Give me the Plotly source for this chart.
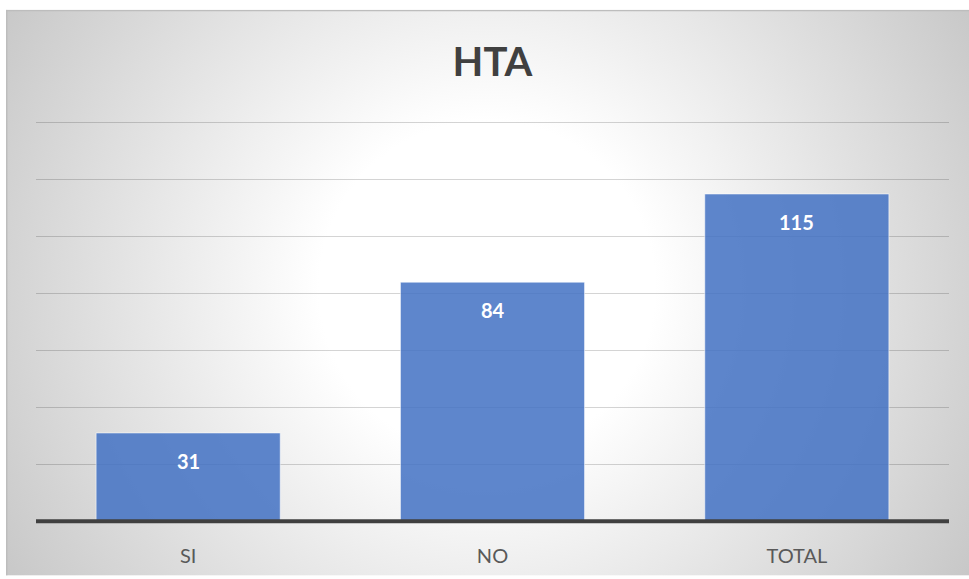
import base64
import plotly.graph_objects as go

# Data
categories = ["SI", "NO", "TOTAL"]
values = [31, 84, 115]
y_ticks = [0, 20, 40, 60, 80, 100, 120, 140]

W, H = 969, 579
M_L, M_R, M_T, M_B = 36, 20, 120, 52
plot_w = W - M_L - M_R
plot_h = H - M_T - M_B

# Radial-gradient chart background with a thin border on the top and left
bg_x0, bg_y0 = 6, 9
bg_w, bg_h = W - bg_x0, H - bg_y0
svg = f"""<svg xmlns='http://www.w3.org/2000/svg' width='{bg_w}' height='{bg_h}' viewBox='0 0 {bg_w} {bg_h}' preserveAspectRatio='none'>
<defs><radialGradient id='g' gradientUnits='userSpaceOnUse' cx='{481}' cy='{280}' r='{560}'>
<stop offset='0' stop-color='#ffffff'/><stop offset='0.3' stop-color='#ffffff'/>
<stop offset='1' stop-color='#c8c8c8'/></radialGradient></defs>
<rect x='0' y='0' width='{bg_w}' height='{bg_h}' fill='url(#g)'/>
<line x1='0' y1='0.75' x2='{bg_w}' y2='0.75' stroke='#bdbdbd' stroke-width='1.5'/>
<line x1='0.75' y1='0' x2='0.75' y2='{bg_h}' stroke='#bdbdbd' stroke-width='1.5'/>
</svg>"""
svg_uri = "data:image/svg+xml;base64," + base64.b64encode(svg.encode()).decode()

fig = go.Figure()
fig.add_trace(go.Bar(
    x=categories,
    y=values,
    marker=dict(color="rgba(68,114,196,0.86)",
                line=dict(color="rgba(255,255,255,0.55)", width=1)),
    hoverinfo="x+y",
))

# Value labels placed just inside the top of each bar
for c, v in zip(categories, values):
    fig.add_annotation(x=c, y=v, text=str(v), showarrow=False, yshift=-28,
                       font=dict(family="Lato", size=20, color="white", weight="bold"))

# Thick baseline
fig.add_shape(type="line", xref="paper", x0=0, x1=1, yref="y", y0=0, y1=0,
              line=dict(color="#404040", width=4), layer="above")

fig.add_layout_image(dict(
    source=svg_uri, xref="paper", yref="paper",
    x=(bg_x0 - M_L) / plot_w, y=(H - M_B - bg_y0) / plot_h,
    sizex=bg_w / plot_w, sizey=bg_h / plot_h,
    xanchor="left", yanchor="top", sizing="stretch", layer="below",
))

fig.update_layout(
    width=W, height=H,
    margin=dict(l=M_L, r=M_R, t=M_T, b=M_B),
    paper_bgcolor="white",
    plot_bgcolor="rgba(0,0,0,0)",
    bargap=0.395,
    showlegend=False,
    title=dict(text="HTA", x=0.5, xref="paper", xanchor="center",
               y=1 - 62 / H, yanchor="middle",
               font=dict(family="Lato", size=40, color="#404040", weight="bold")),
    xaxis=dict(showgrid=False, showline=False, zeroline=False,
               ticks="outside", ticklen=14, tickcolor="rgba(0,0,0,0)",
               tickfont=dict(family="Lato", size=20, color="#595959")),
    yaxis=dict(range=[-1, 141], tickvals=y_ticks[1:], showticklabels=False,
               showgrid=True, gridcolor="rgba(0,0,0,0.17)", gridwidth=1.4,
               zeroline=False, showline=False),
)

fig.write_html("out.html")
